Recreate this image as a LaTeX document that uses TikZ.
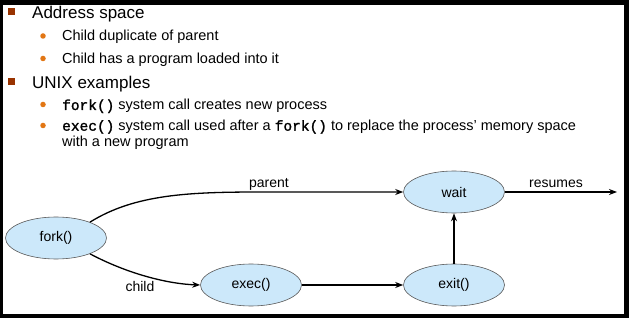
\documentclass[tikz,border=0pt]{standalone}
\usepackage{fontspec}
\setmainfont{Liberation Sans}
\newfontfamily\codefont[FakeBold=1.5]{Liberation Mono}
\usepackage{xcolor}
\usepackage{tikz}
\usetikzlibrary{arrows.meta}
\usetikzlibrary{shapes.geometric}

\definecolor{procblue}{RGB}{204,232,250}
\definecolor{bulletred}{RGB}{153,51,0}
\definecolor{bulletorange}{RGB}{226,118,20}
\newcommand{\syscall}[1]{{\codefont #1}}

\begin{document}
\begin{tikzpicture}[x=1pt, y=-1pt,
				proc/.style={ellipse, draw=black!65, line width=0.6pt, fill=procblue,
						minimum width=101pt, minimum height=42pt, inner sep=0pt,
						font=\fontsize{14}{16}\selectfont},
				topic/.style={anchor=base west, inner sep=0pt, font=\fontsize{17}{20}\selectfont},
				item/.style={anchor=base west, inner sep=0pt, font=\fontsize{14.5}{17}\selectfont},
				sqbullet/.style={rectangle, fill=bulletred, minimum size=7pt, inner sep=0pt},
				dotbullet/.style={circle, fill=bulletorange, minimum size=5.5pt, inner sep=0pt},
				flow/.style={-{Stealth[length=8pt, width=6pt]}, line width=1.3pt},
				lbl/.style={inner sep=0pt, font=\fontsize{14}{16}\selectfont}
			]

			% frame
			\fill[black] (0,0) rectangle (629,318);
			\fill[white] (3,5) rectangle (624,314);

			% bullet list
			\node[sqbullet] (sq1) at (11.5,11.5) {};
			\node[topic] (addr) at (32,18.3) {Address space};
			\node[dotbullet] (dot1) at (43,36) {};
			\node[item] (dup) at (62,40.7) {Child duplicate of parent};
			\node[dotbullet] (dot2) at (43,58.5) {};
			\node[item] (load) at (62,63.3) {Child has a program loaded into it};
			\node[sqbullet] (sq2) at (11.5,81.5) {};
			\node[topic] (unix) at (32,88.3) {UNIX examples};
			\node[dotbullet] (dot3) at (43,104.5) {};
			\node[item] (forkcall) at (62,110) {\syscall{fork()} system call creates new process};
			\node[dotbullet] (dot4) at (43,125.5) {};
			\node[item] (execcall) at (62,130.7) {\syscall{exec()} system call used after a \syscall{fork()} to replace the process’ memory space};
			\node[item] (newprog) at (62,146.7) {with a new program};

			% process states
			\node[proc] (fork) at (56,238) {fork()};
			\node[proc] (exec) at (251,285) {exec()};
			\node[proc] (exit) at (454,285) {exit()};
			\node[proc] (wait) at (454,192) {wait};
			\coordinate (bend) at (262,192);
			\coordinate (resume) at (617,192);

			% arrows
			\draw[flow] (fork.25) .. controls (135,194) and (190,192) .. (bend) -- (wait);
			\draw[flow] (fork.-25) .. controls (130,275) and (170,284) .. (exec.west);
			\draw[flow] (exec) -- (exit);
			\draw[flow] (exit) -- (wait);
			\draw[flow] (wait) -- (resume);

			% labels
			\node[lbl] (parentlbl) at (269,184) {parent};
			\node[lbl] (childlbl) at (140,286) {child};
			\node[lbl] (resumelbl) at (556,184) {resumes};

		\end{tikzpicture}
\end{document}
